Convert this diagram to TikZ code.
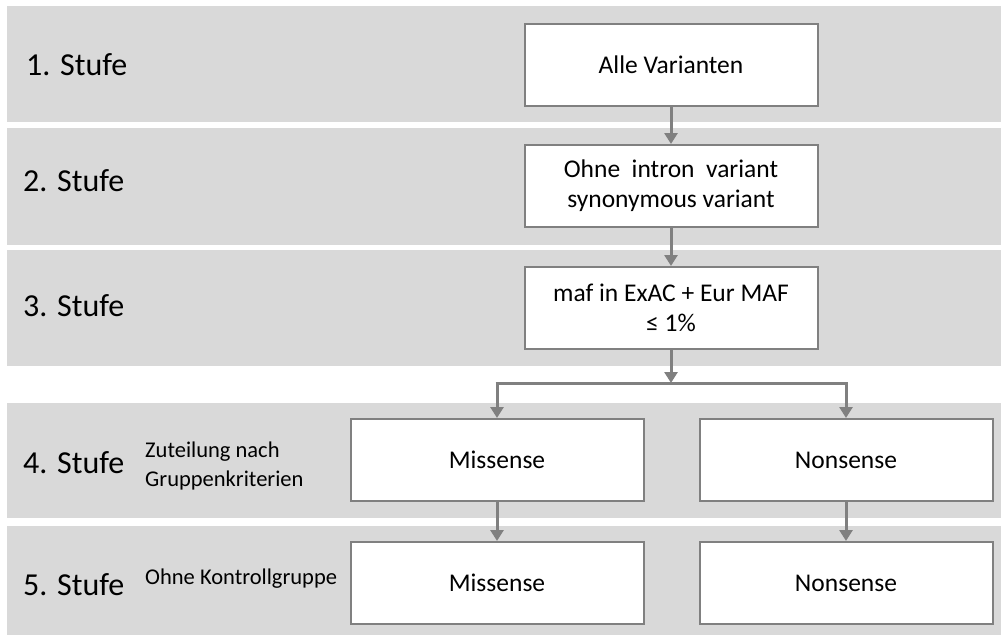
\documentclass[tikz,border=0pt]{standalone}
\usepackage{fontspec}
\setmainfont{Carlito}
\usetikzlibrary{arrows.meta}

\definecolor{bandgray}{HTML}{D9D9D9}
\definecolor{linegray}{HTML}{808080}

\begin{document}
\begin{tikzpicture}[x=1pt,y=-1pt,
  band/.style={fill=bandgray,draw=none},
  stagelabel/.style={anchor=west,inner sep=0pt,font=\fontsize{32}{38}\selectfont},
  note/.style={anchor=west,inner sep=0pt,align=left,font=\fontsize{22.5}{29}\selectfont},
  stepbox/.style={draw=linegray,line width=2pt,fill=white,minimum width=293pt,
    minimum height=82pt,inner sep=0pt,align=center,font=\fontsize{25.5}{30}\selectfont},
  conn/.style={draw=linegray,line width=3pt},
  arr/.style={conn,-{Triangle[width=13pt,length=11pt]}}]

% page frame
\useasboundingbox (0,0) rectangle (1001,637);
\fill[white] (0,0) rectangle (1001,637);

% grey stage bands
\path[band] (7,6)   rectangle (1001,122);
\path[band] (7,128) rectangle (1001,245);
\path[band] (7,250) rectangle (1001,366);
\path[band] (7,403) rectangle (1001,518);
\path[band] (7,526) rectangle (1001,635);

% stage labels
\node[stagelabel] (s1) at (26,65)  {1. Stufe};
\node[stagelabel] (s2) at (23,181) {2. Stufe};
\node[stagelabel] (s3) at (23,306) {3. Stufe};
\node[stagelabel] (s4) at (23,463) {4. Stufe};
\node[stagelabel] (s5) at (23,585) {5. Stufe};
\node[note] (n4) at (145,466) {Zuteilung nach\\Gruppenkriterien};
\node[note] (n5) at (145,579) {Ohne Kontrollgruppe};

% filter boxes
\node[stepbox] (b1) at (671,65)  {Alle Varianten};
\node[stepbox] (b2) at (671,186) {Ohne~~intron~~variant\\synonymous variant};
\node[stepbox] (b3) at (671,308) {maf in ExAC + Eur MAF\\≤ 1\%};
\node[stepbox] (m4) at (497,460) {Missense};
\node[stepbox] (x4) at (846,460) {Nonsense};
\node[stepbox] (m5) at (497,583) {Missense};
\node[stepbox] (x5) at (846,583) {Nonsense};

% split point below stage 3
\coordinate (split) at (671,383);
\coordinate (sl) at (m4 |- split);
\coordinate (sr) at (x4 |- split);

% connectors
\draw[arr] (b1.south) -- (b2.north);
\draw[arr] (b2.south) -- (b3.north);
\draw[arr] (b3.south) -- (split);
\draw[conn] ([xshift=-1.5pt]sl) -- ([xshift=1.5pt]sr);
\draw[arr] ([yshift=-1.5pt]sl) -- (m4.north);
\draw[arr] ([yshift=-1.5pt]sr) -- (x4.north);
\draw[arr] (m4.south) -- (m5.north);
\draw[arr] (x4.south) -- (x5.north);

\end{tikzpicture}
\end{document}
